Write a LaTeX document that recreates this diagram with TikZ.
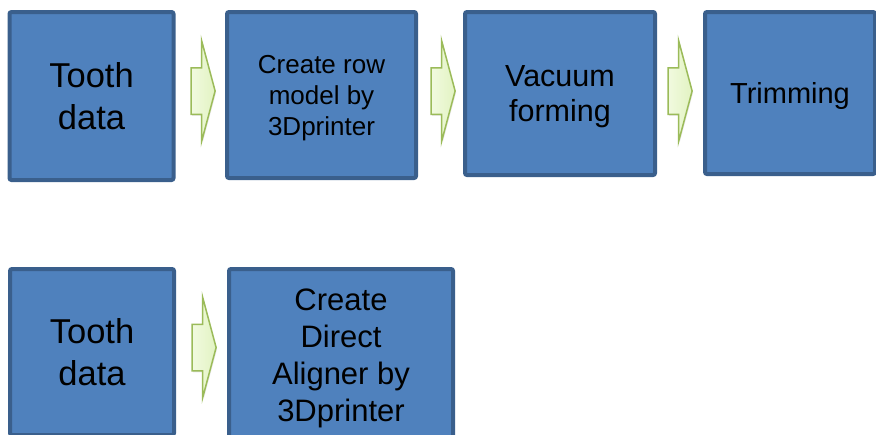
\documentclass[tikz,border=0pt]{standalone}
\usepackage{fontspec}
\setmainfont{Liberation Sans}
\usetikzlibrary{shapes.arrows,positioning,shadows}

\definecolor{boxfill}{HTML}{4F81BD}
\definecolor{boxline}{HTML}{3A5F8C}
\definecolor{arrowfill}{HTML}{E2F3C2}
\definecolor{arrowlight}{HTML}{F1FADF}
\definecolor{arrowline}{HTML}{9BBB59}

\begin{document}
\begin{tikzpicture}[x=1pt, y=-1pt,
    block/.style={rectangle, draw=boxline, fill=boxfill, line width=4pt, rounded corners=2pt, align=center, text=black, inner sep=0pt, text depth=0pt},
    flow/.style={single arrow, draw=arrowline, line width=1.5pt, left color=arrowlight, right color=arrowfill,
        minimum height=24pt, single arrow head extend=27.5pt, single arrow tip angle=150, inner xsep=0pt, inner ysep=22.5pt,
        drop shadow={shadow xshift=1pt, shadow yshift=-1.5pt, opacity=0.18}}]

    \useasboundingbox (0,0) rectangle (876,434);

    % first process
    \node[block, minimum width=164pt, minimum height=168pt, font=\fontsize{34.5}{42}\selectfont] (tooth) at (91.5,96) {Tooth\\data};
    \node[flow, right of=tooth, node distance=108.5pt, yshift=5pt] (arrA) {};
    \node[block, minimum width=189pt, minimum height=166pt, font=\fontsize{26}{31}\selectfont, right of=arrA, node distance=121.5pt, yshift=-4pt] (rowmodel) {Create row\\model by\\3Dprinter};
    \node[flow, right of=rowmodel, node distance=118.5pt, yshift=4pt] (arrB) {};
    \node[block, minimum width=190pt, minimum height=163pt, font=\fontsize{30.5}{34.5}\selectfont, right of=arrB, node distance=120pt, yshift=-2.5pt] (vacuum) {Vacuum\\forming};
    \node[flow, right of=vacuum, node distance=117pt, yshift=2.5pt] (arrC) {};
    \node[block, minimum width=170pt, minimum height=162pt, font=\fontsize{29}{34}\selectfont, right of=arrC, node distance=113pt, yshift=-2pt] (trim) {Trimming};

    % direct process
    \node[block, minimum width=164pt, minimum height=166pt, font=\fontsize{34.5}{42}\selectfont, below of=tooth, node distance=256pt, xshift=0.5pt] (tooth2) {Tooth\\data};
    \node[flow, right of=tooth2, node distance=109pt, yshift=4.5pt] (arrD) {};
    \node[block, minimum width=224pt, minimum height=172pt, font=\fontsize{31}{37}\selectfont, right of=arrD, node distance=140pt, yshift=-7.5pt] (direct) {Create\\Direct\\Aligner by\\3Dprinter};
\end{tikzpicture}
\end{document}
